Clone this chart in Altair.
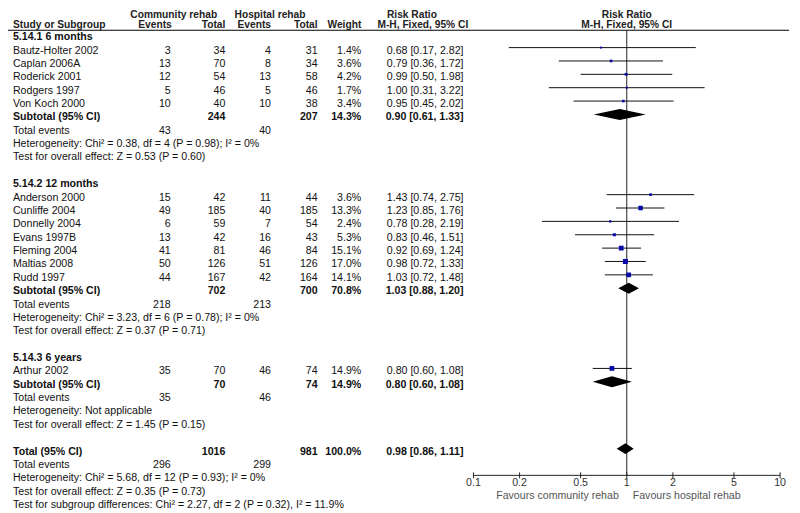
import altair as alt
import pandas as pd

FONT = "Liberation Sans"
FS = 10.7
HFS = 10.3

# ---------------- data ----------------
study = ["Bautz-Holter 2002", "Caplan 2006A", "Roderick 2001", "Rodgers 1997", "Von Koch 2000",
         "Anderson 2000", "Cunliffe 2004", "Donnelly 2004", "Evans 1997B", "Fleming 2004",
         "Maltias 2008", "Rudd 1997", "Arthur 2002"]
study_row = [1, 2, 3, 4, 5, 12, 13, 14, 15, 16, 17, 18, 25]
comm_events = [3, 13, 12, 5, 10, 15, 49, 6, 13, 41, 50, 44, 35]
comm_total = [34, 70, 54, 46, 40, 42, 185, 59, 42, 81, 126, 167, 70]
hosp_events = [4, 8, 13, 5, 10, 11, 40, 7, 16, 46, 51, 42, 46]
hosp_total = [31, 34, 58, 46, 38, 44, 185, 54, 43, 84, 126, 164, 74]
weight = [1.4, 3.6, 4.2, 1.7, 3.4, 3.6, 13.3, 2.4, 5.3, 15.1, 17.0, 14.1, 14.9]
rr = [0.68, 0.79, 0.99, 1.00, 0.95, 1.43, 1.23, 0.78, 0.83, 0.92, 0.98, 1.03, 0.80]
rr_lo = [0.17, 0.36, 0.50, 0.31, 0.45, 0.74, 0.85, 0.28, 0.46, 0.69, 0.72, 0.72, 0.60]
rr_hi = [2.82, 1.72, 1.98, 3.22, 2.02, 2.75, 1.76, 2.19, 1.51, 1.24, 1.33, 1.48, 1.08]

sub_title = ["5.14.1 6 months", "5.14.2 12 months", "5.14.3 6 years"]
sub_title_row = [0, 11, 24]
sub_row = [6, 19, 26]
sub_comm_total = [244, 702, 70]
sub_hosp_total = [207, 700, 74]
sub_weight = [14.3, 70.8, 14.9]
sub_rr = [0.90, 1.03, 0.80]
sub_lo = [0.61, 0.88, 0.60]
sub_hi = [1.33, 1.20, 1.08]
sub_comm_events = [43, 218, 35]
sub_hosp_events = [40, 213, 46]
sub_het = ["Heterogeneity: Chi\u00b2 = 0.38, df = 4 (P = 0.98); I\u00b2 = 0%",
           "Heterogeneity: Chi\u00b2 = 3.23, df = 6 (P = 0.78); I\u00b2 = 0%",
           "Heterogeneity: Not applicable"]
sub_test = ["Test for overall effect: Z = 0.53 (P = 0.60)",
            "Test for overall effect: Z = 0.37 (P = 0.71)",
            "Test for overall effect: Z = 1.45 (P = 0.15)"]

tot_row = 31
tot_comm_total = 1016
tot_hosp_total = 981
tot_weight = 100.0
tot_rr, tot_lo, tot_hi = 0.98, 0.86, 1.11
tot_comm_events = 296
tot_hosp_events = 299
tot_notes = ["Heterogeneity: Chi\u00b2 = 5.68, df = 12 (P = 0.93); I\u00b2 = 0%",
             "Test for overall effect: Z = 0.35 (P = 0.73)",
             "Test for subgroup differences: Chi\u00b2 = 2.27, df = 2 (P = 0.32), I\u00b2 = 11.9%"]

tick_vals = [0.1, 0.2, 0.5, 1, 2, 5, 10]
tick_labs = ["0.1", "0.2", "0.5", "1", "2", "5", "10"]

# ---------------- build tables ----------------
def rrtxt(e, l, h):
    return f"{e:.2f} [{l:.2f}, {h:.2f}]"

cells = []
def add(row, col, text, bold=False):
    cells.append({"row": row, "col": col, "text": str(text), "bold": bold})

for i, name in enumerate(study):
    r = study_row[i]
    add(r, "label", name)
    add(r, "ce", comm_events[i])
    add(r, "ct", comm_total[i])
    add(r, "he", hosp_events[i])
    add(r, "ht", hosp_total[i])
    add(r, "w", f"{weight[i]:.1f}%")
    add(r, "rr", rrtxt(rr[i], rr_lo[i], rr_hi[i]))

for g in range(3):
    add(sub_title_row[g], "label", sub_title[g], True)
    r = sub_row[g]
    add(r, "label", "Subtotal (95% CI)", True)
    add(r, "ct", sub_comm_total[g], True)
    add(r, "ht", sub_hosp_total[g], True)
    add(r, "w", f"{sub_weight[g]:.1f}%", True)
    add(r, "rr", rrtxt(sub_rr[g], sub_lo[g], sub_hi[g]), True)
    add(r + 1, "label", "Total events")
    add(r + 1, "ce", sub_comm_events[g])
    add(r + 1, "he", sub_hosp_events[g])
    add(r + 2, "label", sub_het[g])
    add(r + 3, "label", sub_test[g])

add(tot_row, "label", "Total (95% CI)", True)
add(tot_row, "ct", tot_comm_total, True)
add(tot_row, "ht", tot_hosp_total, True)
add(tot_row, "w", f"{tot_weight:.1f}%", True)
add(tot_row, "rr", rrtxt(tot_rr, tot_lo, tot_hi), True)
add(tot_row + 1, "label", "Total events")
add(tot_row + 1, "ce", tot_comm_events)
add(tot_row + 1, "he", tot_hosp_events)
for k, t in enumerate(tot_notes):
    add(tot_row + 2 + k, "label", t)

cells_df = pd.DataFrame(cells)

studies_df = pd.DataFrame({"row": study_row, "rr": rr, "lo": rr_lo, "hi": rr_hi, "weight": weight})

# diamonds
dia = []
HH = 0.41
d_rows = sub_row + [tot_row]
d_e = sub_rr + [tot_rr]
d_l = sub_lo + [tot_lo]
d_h = sub_hi + [tot_hi]
for k in range(4):
    r = d_rows[k]
    dia.append({"id": k, "x": d_l[k], "y": r, "y2": r})
    dia.append({"id": k, "x": d_e[k], "y": r - HH, "y2": r + HH})
    dia.append({"id": k, "x": d_h[k], "y": r, "y2": r})
dia_df = pd.DataFrame(dia)

# ---------------- scales ----------------
xscale = alt.Scale(type="log", domain=[0.1, 10], range=[469, 778], nice=False)
yscale = alt.Scale(domain=[0, 35], range=[24.5, 24.5 + 13.47 * 35], nice=False, zero=False)

COLS = {"label": (5, "left"), "ce": (164, "right"), "ct": (219, "right"),
        "he": (265, "right"), "ht": (312, "right"), "w": (356, "right"), "rr": (459, "right")}

layers = []
for col, (px, al) in COLS.items():
    for b in (False, True):
        sub = cells_df[(cells_df.col == col) & (cells_df.bold == b)]
        if len(sub) == 0:
            continue
        layers.append(
            alt.Chart(sub).mark_text(align=al, baseline="middle", dy=3, font=FONT, fontSize=FS,
                                     fontWeight="bold" if b else "normal", color="#111")
            .encode(x=alt.value(px), y=alt.Y("row:Q", scale=yscale, axis=None), text="text:N")
        )

# headers
HDR1 = 8.0
HDR2 = 18.6
RULE_Y = 20.5
hdr1 = [("Community rehab", 167, "center"), ("Hospital rehab", 264, "center"), ("Risk Ratio", 407, "center")]
hdr2 = [("Study or Subgroup", 5, "left"), ("Events", 165, "right"), ("Total", 219, "right"),
        ("Events", 265, "right"), ("Total", 312, "right"), ("Weight", 356, "right"),
        ("M-H, Fixed, 95% CI", 418, "center")]
for (t, px, al) in hdr1:
    layers.append(alt.Chart(pd.DataFrame({"t": [t]})).mark_text(
        align=al, baseline="alphabetic", font=FONT, fontSize=HFS, fontWeight="bold", color="#222")
        .encode(x=alt.value(px), y=alt.value(HDR1), text="t:N"))
for (t, px, al) in hdr2:
    layers.append(alt.Chart(pd.DataFrame({"t": [t]})).mark_text(
        align=al, baseline="alphabetic", font=FONT, fontSize=HFS, fontWeight="bold", color="#222")
        .encode(x=alt.value(px), y=alt.value(HDR2), text="t:N"))
for (t, yy) in [("Risk Ratio", HDR1), ("M-H, Fixed, 95% CI", HDR2)]:
    layers.append(alt.Chart(pd.DataFrame({"v": [1], "t": [t]})).mark_text(
        align="center", baseline="alphabetic", font=FONT, fontSize=HFS, fontWeight="bold", color="#222")
        .encode(x=alt.X("v:Q", scale=xscale, axis=None), y=alt.value(yy), text="t:N"))

# header rule
layers.append(alt.Chart(pd.DataFrame({"a": [0]})).mark_rule(color="#000", strokeWidth=1)
              .encode(x=alt.value(0), x2=alt.value(787), y=alt.value(RULE_Y)))

# vertical line of no effect
layers.append(alt.Chart(pd.DataFrame({"v": [1]})).mark_rule(color="#222", strokeWidth=1)
              .encode(x=alt.X("v:Q", scale=xscale, axis=None), y=alt.value(RULE_Y), y2=alt.value(469)))

# CI lines
layers.append(alt.Chart(studies_df).mark_rule(color="#111", strokeWidth=1)
              .encode(x=alt.X("lo:Q", scale=xscale, axis=None), x2="hi:Q",
                      y=alt.Y("row:Q", scale=yscale, axis=None)))
# squares
layers.append(alt.Chart(studies_df).mark_square(filled=True, color="#0a0aa8", opacity=1)
              .encode(x=alt.X("rr:Q", scale=xscale, axis=None),
                      y=alt.Y("row:Q", scale=yscale, axis=None),
                      size=alt.Size("weight:Q", scale=alt.Scale(domain=[0, 17], range=[2, 26]), legend=None)))
# diamonds
layers.append(alt.Chart(dia_df).mark_area(color="#000", opacity=1, orient="vertical")
              .encode(x=alt.X("x:Q", scale=xscale, axis=None),
                      y=alt.Y("y:Q", scale=yscale, axis=None), y2="y2:Q",
                      detail="id:N"))

# axis
layers.append(alt.Chart(pd.DataFrame({"a": [tick_vals[0]], "b": [tick_vals[-1]]})).mark_rule(color="#222")
              .encode(x=alt.X("a:Q", scale=xscale, axis=None), x2="b:Q", y=alt.value(469)))
ticks_df = pd.DataFrame({"t": tick_vals, "lab": tick_labs})
layers.append(alt.Chart(ticks_df).mark_rule(color="#222")
              .encode(x=alt.X("t:Q", scale=xscale, axis=None), y=alt.value(466), y2=alt.value(472)))
layers.append(alt.Chart(ticks_df).mark_text(font=FONT, fontSize=FS, color="#333", baseline="middle")
              .encode(x=alt.X("t:Q", scale=xscale, axis=None), y=alt.value(476.5), text="lab:N"))
layers.append(alt.Chart(pd.DataFrame({"v": [1], "t": ["Favours community rehab"]}))
              .mark_text(font=FONT, fontSize=FS, color="#555", align="right", dx=-8, baseline="middle")
              .encode(x=alt.X("v:Q", scale=xscale, axis=None), y=alt.value(489.5), text="t:N"))
layers.append(alt.Chart(pd.DataFrame({"v": [1], "t": ["Favours hospital rehab"]}))
              .mark_text(font=FONT, fontSize=FS, color="#555", align="left", dx=6, baseline="middle")
              .encode(x=alt.X("v:Q", scale=xscale, axis=None), y=alt.value(489.5), text="t:N"))

chart = alt.layer(*layers).properties(
    width=790, height=505, padding=0, autosize=alt.AutoSizeParams(type="none")
).configure_view(stroke=None)

chart.save("out.html", embed_options={"renderer": "svg", "actions": False})
